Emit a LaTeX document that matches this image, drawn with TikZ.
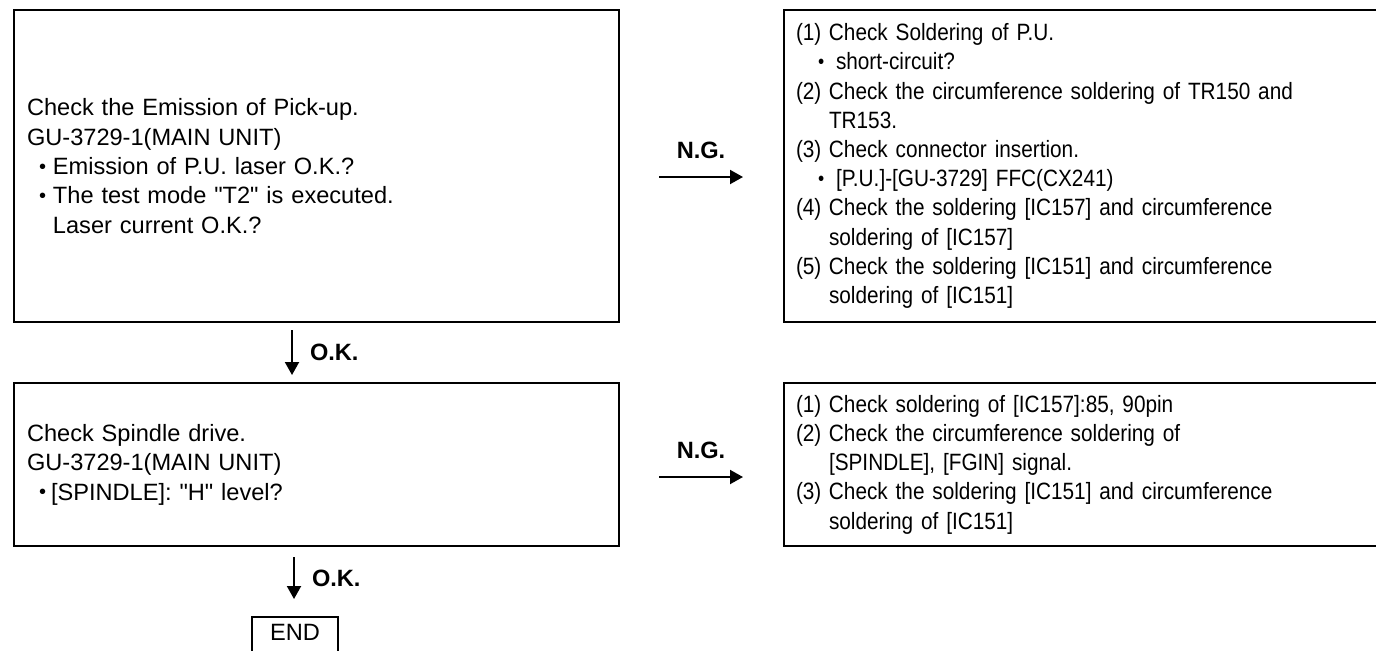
\documentclass[tikz,border=0pt]{standalone}
\usepackage{fontspec}
\setmainfont{Liberation Sans}
\newfontfamily\narrowfont{Liberation Sans}[FakeStretch=0.88]
\usetikzlibrary{calc, arrows.meta}

\newcommand{\smalldot}{\raisebox{0.7pt}{\scalebox{0.85}{\textbullet}}}
\newcommand{\numitem}[2]{\hangindent=16.5pt\hangafter=1\noindent\makebox[16.5pt][l]{#1}#2\par}
\newcommand{\dotitem}[3]{\hangindent=#2\hangafter=1\noindent\hspace*{#1}\makebox[\dimexpr #2-#1\relax][l]{\smalldot}#3\par}

\begin{document}
\begin{tikzpicture}[x=0.5pt, y=-0.5pt,
  box/.style={draw, line width=1.2pt, outer sep=0pt, anchor=north west, align=left, inner xsep=6.5pt,
    font=\fontsize{11.8pt}{14.7pt}\selectfont},
  listbox/.style={box, inner xsep=6pt, text width=286pt, font=\narrowfont\fontsize{11.8pt}{14.6pt}\selectfont},
  endbox/.style={draw, line width=1.2pt, outer sep=0pt, anchor=north, minimum width=43pt, inner xsep=0pt,
    inner ysep=3pt, text height=8.5pt, text depth=6pt, font=\fontsize{11.8pt}{14.7pt}\selectfont},
  flow/.style={line width=1pt, -{Triangle[length=6.5pt, width=7pt]}},
  answer/.style={inner sep=0pt, font=\fontsize{11.8pt}{14.7pt}\selectfont\bfseries}]
  \useasboundingbox (0, 0) rectangle (1376, 650);
  \clip (0, 0) rectangle (1376, 650);

% pick-up emission
  \draw (14, 10) node[box, text width=289.5pt, minimum height=156pt] (emit) {%
    Check the Emission of Pick-up.\par
    GU-3729-1(MAIN UNIT)\par
    \dotitem{6pt}{13pt}{Emission of P.U. laser O.K.?}
    \dotitem{6pt}{13pt}{The test mode \textquotedbl T2\textquotedbl{} is executed.\newline Laser current O.K.?}};

  \draw ($(emit.north east) + (165, 0)$) node[listbox, minimum height=156pt] (solder) {%
    \numitem{(1)}{Check Soldering of P.U.}
    \dotitem{11pt}{20pt}{short-circuit?}
    \numitem{(2)}{Check the circumference soldering of TR150 and\newline TR153.}
    \numitem{(3)}{Check connector insertion.}
    \dotitem{11pt}{20pt}{[P.U.]-[GU-3729] FFC(CX241)}
    \numitem{(4)}{Check the soldering [IC157] and circumference\newline soldering of [IC157]}
    \numitem{(5)}{Check the soldering [IC151] and circumference\newline soldering of [IC151]}};

  \draw[flow] ($(emit.east) + (40, 11)$) -- ($(solder.west) + (-41, 11)$)
    node[answer, midway, above=8.5pt] {N.G.};

% spindle drive
  \draw ($(emit.south west) + (0, 61)$) node[box, text width=289.5pt, minimum height=81.5pt] (spindle) {%
    Check Spindle drive.\par
    GU-3729-1(MAIN UNIT)\par
    \dotitem{6pt}{12pt}{[SPINDLE]: \textquotedbl H\textquotedbl{} level?}};

  \draw ($(spindle.north east) + (165, 0)$) node[listbox, minimum height=81.5pt] (motor) {%
    \numitem{(1)}{Check soldering of [IC157]:85, 90pin}
    \numitem{(2)}{Check the circumference soldering of\newline [SPINDLE], [FGIN] signal.}
    \numitem{(3)}{Check the soldering [IC151] and circumference\newline soldering of [IC151]}};

  \draw[flow] ($(emit.south) + (-24.5, 8)$) -- ($(spindle.north) + (-24.5, -8)$)
    node[answer, midway, right=8.5pt] {O.K.};
  \draw[flow] ($(spindle.east) + (40, 12.5)$) -- ($(motor.west) + (-41, 12.5)$)
    node[answer, midway, above=8.5pt] {N.G.};

% end
  \draw ($(spindle.south) + (-21.5, 71)$) node[endbox] (finish) {END};
  \draw[flow] ($(spindle.south) + (-22.5, 11)$) -- ($(finish.north) + (-1, -18)$)
    node[answer, midway, right=8.5pt] {O.K.};
\end{tikzpicture}
\end{document}
